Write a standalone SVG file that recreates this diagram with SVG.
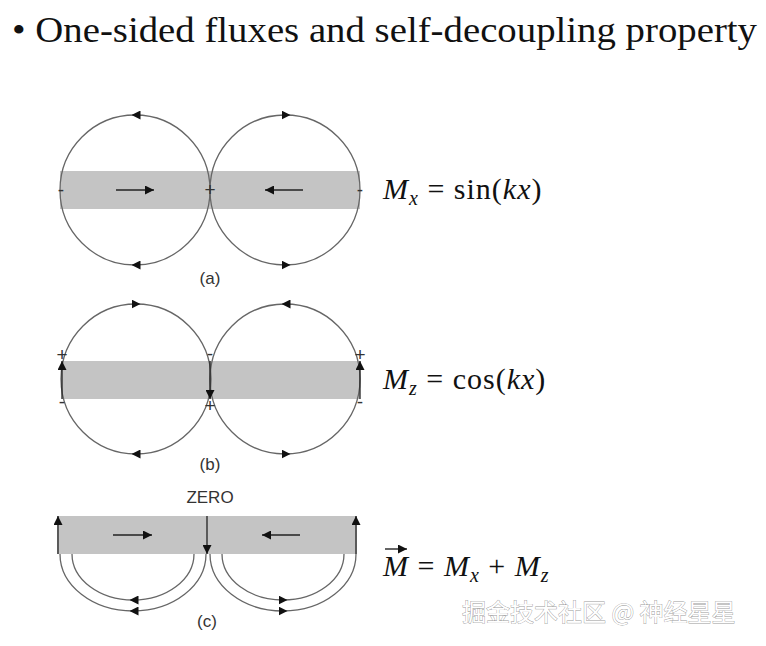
<svg xmlns="http://www.w3.org/2000/svg" width="766" height="646" viewBox="0 0 766 646">
<defs>
<marker id="ah" viewBox="0 0 10 10" refX="5" refY="5" markerWidth="9" markerHeight="9" markerUnits="userSpaceOnUse" orient="auto"><path d="M0,0L10,5L0,10z" fill="#111"/></marker>
<marker id="ae" viewBox="0 0 10 10" refX="10" refY="5" markerWidth="9" markerHeight="9" markerUnits="userSpaceOnUse" orient="auto"><path d="M0,0L10,5L0,10z" fill="#111"/></marker>
</defs>
<style>
.bar{fill:#c4c4c4}
.fl{fill:none;stroke:#666;stroke-width:1.3}
.ar{stroke:#222;stroke-width:1.3;fill:none;marker-end:url(#ae)}
.mid{stroke:#111;stroke-width:0;fill:none;marker-end:url(#ah)}
.sg{font-family:"Liberation Sans",sans-serif;font-size:19px;fill:#333;text-anchor:middle}
.lb{font-family:"Liberation Sans",sans-serif;font-size:17px;fill:#333;text-anchor:middle}
.eq{font-family:"Liberation Serif",serif;font-size:30px;fill:#111;letter-spacing:1px}
</style>
<rect width="766" height="646" fill="#fff"/>
<text x="12" y="42" font-family="Liberation Serif,serif" font-size="36" fill="#111" textLength="745" lengthAdjust="spacingAndGlyphs">• One-sided fluxes and self-decoupling property</text>

<g id="diagram-a">
<rect class="bar" x="60" y="171" width="300" height="38"/>
<circle class="fl" cx="135" cy="190" r="75"/>
<circle class="fl" cx="285" cy="190" r="75"/>
<path class="mid" d="M140,115L136,115"/><path class="mid" d="M282,115L286,115"/>
<path class="mid" d="M140,265L136,265"/><path class="mid" d="M282,265L286,265"/>
<path class="ar" d="M116,190H154"/><path class="ar" d="M303,190H265"/>
<text class="sg" x="61" y="196">-</text><text class="sg" x="210" y="196">+</text><text class="sg" x="360" y="196">-</text>
<text class="lb" x="210" y="284">(a)</text>
<text class="eq" x="383" y="199"><tspan font-style="italic">M</tspan><tspan font-style="italic" font-size="20" dy="6">x</tspan><tspan dy="-6"> = sin(</tspan><tspan font-style="italic">kx</tspan>)</text>
</g>

<g id="diagram-b">
<rect class="bar" x="62" y="361" width="298" height="38"/>
<circle class="fl" cx="136" cy="379" r="75"/>
<circle class="fl" cx="285" cy="379" r="75"/>
<path class="mid" d="M132,304L136,304"/><path class="mid" d="M290,304L286,304"/>
<path class="mid" d="M140,454L136,454"/><path class="mid" d="M282,454L286,454"/>
<path class="ar" d="M62,399V361" stroke-width="1"/><path class="ar" d="M210,361V399" stroke-width="1"/><path class="ar" d="M360,399V361" stroke-width="1"/>
<text class="sg" x="62" y="361">+</text><text class="sg" x="62" y="408">-</text>
<text class="sg" x="210" y="360">-</text><text class="sg" x="210" y="412">+</text>
<text class="sg" x="360" y="361">+</text><text class="sg" x="360" y="408">-</text>
<text class="lb" x="210" y="470">(b)</text>
<text class="eq" x="383" y="389"><tspan font-style="italic">M</tspan><tspan font-style="italic" font-size="20" dy="6">z</tspan><tspan dy="-6"> = cos(</tspan><tspan font-style="italic">kx</tspan>)</text>
</g>

<g id="diagram-c">
<text class="lb" x="210" y="503">ZERO</text>
<rect class="bar" x="57" y="516" width="300" height="38"/>
<path class="fl" d="M60,554A73,57 0 0 0 206,554"/>
<path class="fl" d="M72,554A61,46 0 0 0 194,554"/>
<path class="fl" d="M210,554A73,57 0 0 0 356,554"/>
<path class="fl" d="M222,554A61,46 0 0 0 344,554"/>
<path class="mid" d="M138,611L134,611"/><path class="mid" d="M138,600L134,600"/>
<path class="mid" d="M279,611L283,611"/><path class="mid" d="M279,600L283,600"/>
<path class="ar" d="M113,535H152"/><path class="ar" d="M300,535H262"/>
<path class="ar" d="M58,554V516" stroke-width="1"/><path class="ar" d="M207,516V554" stroke-width="1"/><path class="ar" d="M356,554V516" stroke-width="1"/>
<text class="lb" x="207" y="627">(c)</text>
<text class="eq" x="383" y="576"><tspan font-style="italic">M</tspan><tspan> = </tspan><tspan font-style="italic">M</tspan><tspan font-style="italic" font-size="20" dy="6">x</tspan><tspan dy="-6"> + </tspan><tspan font-style="italic">M</tspan><tspan font-style="italic" font-size="20" dy="6">z</tspan></text>
<path d="M385,549H407" stroke="#111" stroke-width="1.3" marker-end="url(#ae)"/>
</g>
<text x="462" y="621" font-family="Noto Sans CJK SC,sans-serif" font-size="24" fill="#fff" stroke="#999" stroke-width="0.8" paint-order="stroke">掘金技术社区 @ 神经星星</text>
</svg>
